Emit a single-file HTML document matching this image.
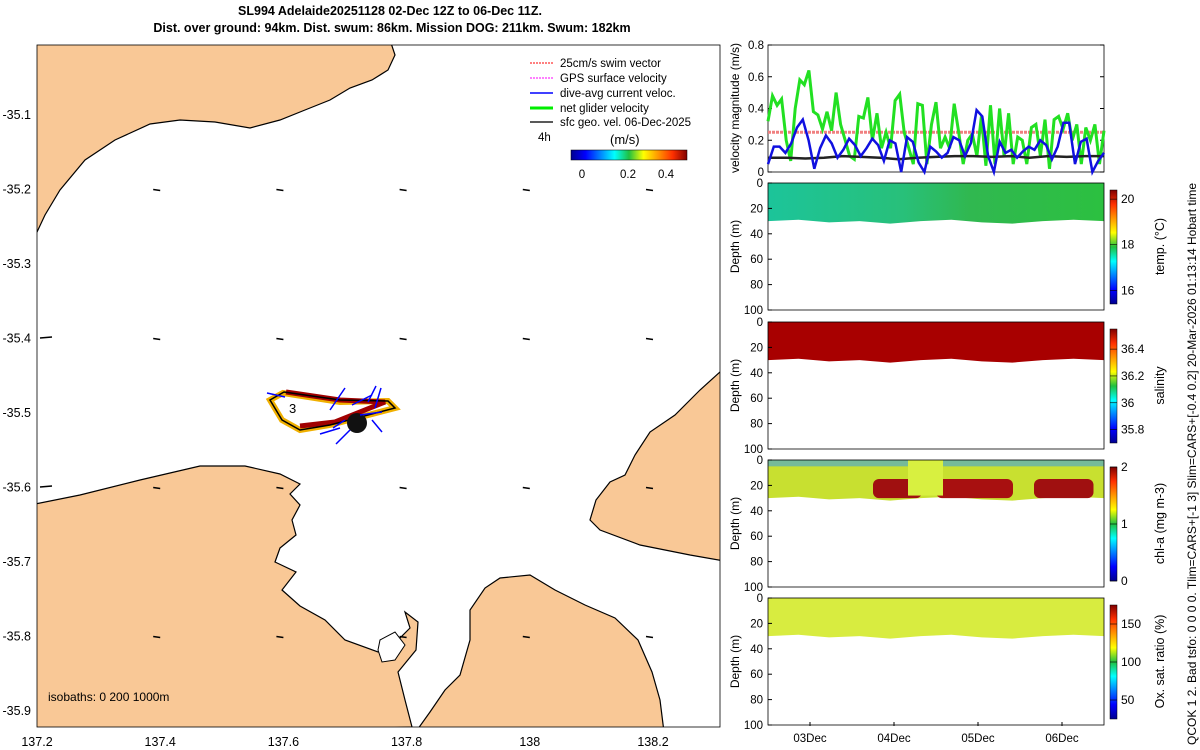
<!DOCTYPE html>
<html><head><meta charset="utf-8"><style>
html,body{margin:0;padding:0;background:#fff;}
svg{display:block;font-family:"Liberation Sans",sans-serif;}
</style></head><body>
<svg id="fig" width="1200" height="750" viewBox="0 0 1200 750">
<defs>
<linearGradient id="jet" x1="0" y1="0" x2="1" y2="0">
<stop offset="0" stop-color="#00008f"/><stop offset="0.125" stop-color="#0000ff"/><stop offset="0.375" stop-color="#00ffff"/><stop offset="0.5" stop-color="#20c040"/><stop offset="0.625" stop-color="#ffff00"/><stop offset="0.875" stop-color="#ff3000"/><stop offset="1" stop-color="#800000"/>
</linearGradient>
<linearGradient id="jetv" x1="0" y1="1" x2="0" y2="0">
<stop offset="0" stop-color="#00008f"/><stop offset="0.125" stop-color="#0000ff"/><stop offset="0.375" stop-color="#00ffff"/><stop offset="0.5" stop-color="#20c040"/><stop offset="0.625" stop-color="#ffff00"/><stop offset="0.875" stop-color="#ff3000"/><stop offset="1" stop-color="#800000"/>
</linearGradient>
<linearGradient id="tempg" x1="0" y1="0" x2="1" y2="0">
<stop offset="0" stop-color="#1cc49a"/><stop offset="0.4" stop-color="#28c07a"/><stop offset="0.6" stop-color="#30b850"/><stop offset="1" stop-color="#2cc040"/>
</linearGradient>
<clipPath id="mapclip"><rect x="37" y="45" width="683" height="682"/></clipPath>
</defs>

<text x="390" y="15" text-anchor="middle" font-size="12.5" font-weight="bold">SL994 Adelaide20251128 02-Dec 12Z to 06-Dec 11Z.</text>
<text x="392" y="32" text-anchor="middle" font-size="12.5" font-weight="bold">Dist. over ground: 94km. Dist. swum: 86km. Mission DOG: 211km. Swum: 182km</text>

<g clip-path="url(#mapclip)">
<rect x="37" y="45" width="683" height="682" fill="#fff"/>
<path fill="#f9c896" stroke="#000" stroke-width="1.2" d="M30,40 L390,40 L395,55 L388,70 L372,80 L350,88 L330,100 L305,110 L280,120 L250,128 L215,122 L180,120 L150,124 L115,140 L85,160 L60,190 L45,215 L37,232 L30,232 Z"/>
<path fill="#f9c896" stroke="#000" stroke-width="1.2" d="M30,505 L80,495 L140,480 L200,466 L245,466 L280,474 L300,484 L290,494 L300,505 L292,520 L296,535 L280,548 L275,562 L296,572 L282,590 L300,606 L325,620 L345,640 L378,652 L398,640 L410,628 L405,612 L418,622 L416,650 L398,672 L405,700 L412,727 L30,740 Z"/>
<path fill="#f9c896" stroke="#000" stroke-width="1.2" d="M410,740 L430,712 L445,690 L460,675 L470,640 L470,610 L485,588 L500,578 L530,575 L555,590 L585,605 L615,618 L638,640 L652,672 L660,700 L665,740 Z"/>
<path fill="#f9c896" stroke="#000" stroke-width="1.2" d="M730,365 L720,372 L700,390 L675,415 L650,432 L635,455 L625,475 L610,482 L596,500 L590,520 L600,530 L640,545 L690,555 L730,562 Z"/>
<path fill="#fff" stroke="#000" stroke-width="1" d="M380,640 L395,632 L405,645 L395,660 L382,662 L378,650 Z"/>
<path fill="none" stroke="#f0b000" stroke-width="6" d="M283,393 L340,402 L388,401 L395,408 L330,425 L300,430 L282,420 L270,400 Z"/>
<path fill="none" stroke="#a00000" stroke-width="5" d="M286,392 L340,400 L385,402 L335,422 L300,426"/>
<path fill="none" stroke="#000" stroke-width="1.5" d="M284,392 L340,400 L388,401 L395,408 L330,425 L300,430 L282,420 L270,400 Z"/>
<circle cx="357" cy="423" r="10" fill="#111"/>
<text x="289" y="413" font-size="13">3</text>
<g id="arrows" stroke="#00f" stroke-width="1.5" fill="none"></g>
<g id="geo" fill="#000" stroke="#000"></g>
<text x="48" y="701" font-size="12">isobaths: 0   200  1000m</text>
</g>
<rect x="37" y="45" width="683" height="682" fill="none" stroke="#000" stroke-width="0.8"/>
<g id="mapaxes" font-size="12.5"></g>

<g font-size="11.5">
<line x1="530" y1="63" x2="553" y2="63" stroke="#f00" stroke-dasharray="2 1"/><text x="560" y="67">25cm/s swim vector</text>
<line x1="530" y1="78" x2="553" y2="78" stroke="#f0f" stroke-dasharray="2 1"/><text x="560" y="82">GPS surface velocity</text>
<line x1="530" y1="93" x2="553" y2="93" stroke="#00f" stroke-width="1.5"/><text x="560" y="97">dive-avg current veloc.</text>
<line x1="530" y1="108" x2="553" y2="108" stroke="#0e0" stroke-width="3"/><text x="560" y="112">net glider velocity</text>
<line x1="530" y1="122" x2="553" y2="122" stroke="#222" stroke-width="1.5"/><text x="560" y="126">sfc geo. vel. 06-Dec-2025</text>
<text x="538" y="141">4h</text>
<text x="610" y="144" font-size="13">(m/s)</text>
<rect x="571" y="150" width="116" height="10" fill="url(#jet)" stroke="#000" stroke-width="0.5"/>
<text x="582" y="178" text-anchor="middle">0</text><text x="628" y="178" text-anchor="middle">0.2</text><text x="666" y="178" text-anchor="middle">0.4</text>
</g>

<g id="vel"></g>
<g id="prof"></g>

<text transform="translate(1196,745) rotate(-90)" font-size="12">QCOK 1  2. Bad tsfo: 0  0  0  0. Tlim=CARS+[-1 3] Slim=CARS+[-0.4 0.2] 20-Mar-2026 01:13:14 Hobart time</text>
</svg>
<script>
const NS="http://www.w3.org/2000/svg";
function mk(tag,attrs,parent,txt){const e=document.createElementNS(NS,tag);for(const k in attrs)e.setAttribute(k,attrs[k]);if(txt!==undefined)e.textContent=txt;parent.appendChild(e);return e;}

// map axes
const lonTicks=[137.2,137.4,137.6,137.8,138,138.2];
const latTicks=[-35.1,-35.2,-35.3,-35.4,-35.5,-35.6,-35.7,-35.8,-35.9];
const lonX=v=>37+(v-137.2)*616;
const latY=v=>115+(-35.1-v)*745;
const ma=document.getElementById('mapaxes');
lonTicks.forEach(v=>{const t=mk('text',{x:lonX(v),y:746,'text-anchor':'middle'},ma,String(v));

});
latTicks.forEach(v=>{const t=mk('text',{x:31,y:latY(v)+4,'text-anchor':'end'},ma,String(v));

});

// geostrophic arrows
const geoLon=[137.4,137.6,137.8,138,138.2];
const geoLat=[-35.2,-35.4,-35.6,-35.8];
const geo=document.getElementById('geo');
geoLat.forEach(la=>geoLon.forEach(lo=>{const x=lonX(lo)-4,y=latY(la);
const a=mk('line',{x1:x-3,y1:y,x2:x+4,y2:y+1,'stroke-width':1.5},geo);

}));
mk('line',{x1:40,y1:338,x2:52,y2:337,'stroke-width':1.5},geo);
mk('line',{x1:40,y1:487,x2:52,y2:486,'stroke-width':1.5},geo);

// dive-avg arrows
const arrDx=[-18,15,-12,20,8,-14,22,10,-20,6];
const arrDy=[-4,-22,8,-10,-16,14,-3,12,6,-20];
const arrX0=[285,330,345,352,368,350,360,372,340,375];
const arrY0=[397,410,420,405,402,430,415,420,428,408];
const ag=document.getElementById('arrows');
arrDx.forEach((dx,i)=>{const l=mk('line',{x1:arrX0[i],y1:arrY0[i],x2:arrX0[i]+dx,y2:arrY0[i]+arrDy[i]},ag);

});

// velocity panel
const green=[0.32,0.48,0.42,0.46,0.2,0.07,0.4,0.58,0.55,0.64,0.38,0.36,0.27,0.38,0.26,0.5,0.3,0.2,0.1,0.08,0.35,0.34,0.47,0.2,0.37,0.15,0.25,0.15,0.45,0.49,0.25,0.15,0.05,0.43,0.42,0.05,0.3,0.44,0.15,0.22,0.15,0.43,0.25,0.05,0.2,0.24,0.1,0.35,0.04,0.42,0.05,0.4,0.1,0.37,0.05,0.22,0.2,0.05,0.28,0.3,0.1,0.33,0.02,0.33,0.35,0.27,0.37,0.2,0.3,0.05,0.28,0.2,0.3,0.05,0.26];
const blue=[0.05,0.16,0.16,0.12,0.18,0.28,0.33,0.2,0.02,0.15,0.23,0.18,0.09,0.14,0.21,0.17,0.1,0.15,0.21,0.17,0.07,0.2,0.18,0.0,0.22,0.19,0.06,0.0,0.16,0.13,0.09,0.12,0.22,0.2,0.1,0.18,0.39,0.35,0.1,0.0,0.19,0.12,0.14,0.09,0.13,0.16,0.14,0.2,0.17,0.08,0.16,0.31,0.31,0.05,0.19,0.21,0.0,0.07,0.12];
const black=[0.09,0.09,0.085,0.09,0.1,0.095,0.09,0.08,0.09,0.095,0.1,0.1,0.095,0.1,0.09,0.1,0.095,0.1,0.1];
const swim=[0.25,0.25];
const velTicks=[0,0.2,0.4,0.6,0.8];
const dayLabels=['03Dec','04Dec','05Dec','06Dec'];
const dayHours=[12,36,60,84];
const PX0=768,PX1=1104,HOURS=96;
const tx=h=>PX0+h/HOURS*(PX1-PX0);
const vy=v=>172-v/0.8*127;
const vg=document.getElementById('vel');


mk('rect',{x:PX0,y:45,width:PX1-PX0,height:127,fill:'#fff',stroke:'#000','stroke-width':0.8},vg);
velTicks.forEach(v=>{mk('text',{x:PX0-4,y:vy(v)+4,'text-anchor':'end','font-size':11.5},vg,String(v));
mk('line',{x1:PX0,y1:vy(v),x2:PX0+4,y2:vy(v),stroke:'#000'},vg);mk('line',{x1:PX1-4,y1:vy(v),x2:PX1,y2:vy(v),stroke:'#000'},vg);});
mk('text',{transform:'translate(739,108) rotate(-90)','text-anchor':'middle','font-size':12},vg,'velocity magnitude (m/s)');
function series(arr,col,w,name,dash){const pts=arr.map((v,i)=>tx(i/(arr.length-1)*HOURS).toFixed(1)+','+vy(v).toFixed(1)).join(' ');
const p=mk('polyline',{points:pts,fill:'none',stroke:col,'stroke-width':w},vg);if(dash)p.setAttribute('stroke-dasharray',dash);

}
series(swim,'#f08080',3,'swim-speed-line','3 1');
series(green,'#22e022',3,'net-glider-velocity-line');
series(black,'#222',2.5,'geo-velocity-line');
series(blue,'#1010e0',2.5,'dive-avg-current-line');

// profile panels
const panelTops=[183,322,460,598];
const panelNames=['temperature-panel','salinity-panel','chlorophyll-panel','oxygen-panel'];
const cbLabels=[['20','18','16'],['36.4','36.2','36','35.8'],['2','1','0'],['150','100','50']];
const cbVals=[[20,18,16],[36.4,36.2,36.0,35.8],[2,1,0],[150,100,50]];
const cbRange=[[15.4,20.4],[35.7,36.55],[0,2],[25,175]];
const cbTitles=['temp. (°C)','salinity','chl-a (mg m-3)','Ox. sat. ratio (%)'];
const depthTicks=[0,20,40,60,80,100];
const bottomDepth=[30,29,31,30,32,30,29,31,32,30,29,30];
const pg=document.getElementById('prof');
panelTops.forEach((top,k)=>{
 const g=mk('g',{},pg);
 
 
 const H=127,dy=d=>top+d/100*H;
 mk('rect',{x:PX0,y:top,width:PX1-PX0,height:H,fill:'#fff'},g);
 let pts=bottomDepth.map((d,i)=>tx(i/(bottomDepth.length-1)*HOURS).toFixed(1)+','+dy(d).toFixed(1));
 const fillCol=['url(#tempg)','#a80000','#c8e030','#d8ec40'][k];
 mk('polygon',{points:PX0+','+top+' '+PX1+','+top+' '+pts.reverse().join(' '),fill:fillCol},g);
 if(k===2){
  const blobH=[[30,44,'#a01010'],[48,70,'#a81010'],[76,93,'#a01010']];
  blobH.forEach(b=>{mk('rect',{x:tx(b[0]),y:dy(15),width:tx(b[1])-tx(b[0]),height:dy(30)-dy(15),fill:b[2],rx:6},g);});
  mk('rect',{x:PX0,y:top,width:PX1-PX0,height:dy(5)-top,fill:'#40a0e0',opacity:0.6},g);
  mk('rect',{x:tx(40),y:top,width:tx(50)-tx(40),height:dy(28)-top,fill:'#d8f040'},g);
 }
 mk('rect',{x:PX0,y:top,width:PX1-PX0,height:H,fill:'none',stroke:'#000','stroke-width':0.8},g);
 depthTicks.forEach(d=>{mk('text',{x:PX0-5,y:dy(d)+4,'text-anchor':'end','font-size':11.5},g,String(d));
  mk('line',{x1:PX0,y1:dy(d),x2:PX0+4,y2:dy(d),stroke:'#000'},g);});
 mk('text',{transform:'translate(739,'+(top+H/2)+') rotate(-90)','text-anchor':'middle','font-size':12},g,'Depth (m)');
 const cy0=top+7,cy1=top+H-6;
 mk('rect',{x:1110,y:cy0,width:7,height:cy1-cy0,fill:'url(#jetv)',stroke:'#000','stroke-width':0.5},g);
 const r=cbRange[k];
 cbVals[k].forEach((v,i)=>{const y=cy1-(v-r[0])/(r[1]-r[0])*(cy1-cy0);
  mk('line',{x1:1110,y1:y,x2:1117,y2:y,stroke:'#000','stroke-width':0.6},g);
  mk('text',{x:1121,y:y+4,'font-size':12},g,cbLabels[k][i]);});
 mk('text',{transform:'translate(1164,'+(top+H/2)+') rotate(-90)','text-anchor':'middle','font-size':12.5},g,cbTitles[k]);
});
dayLabels.forEach((l,i)=>{const t=mk('text',{x:tx(dayHours[i]),y:742,'text-anchor':'middle','font-size':11.5},pg,l);


mk('line',{x1:tx(dayHours[i]),y1:726,x2:tx(dayHours[i]),y2:722,stroke:'#000'},pg);});
</script>
</body></html>
